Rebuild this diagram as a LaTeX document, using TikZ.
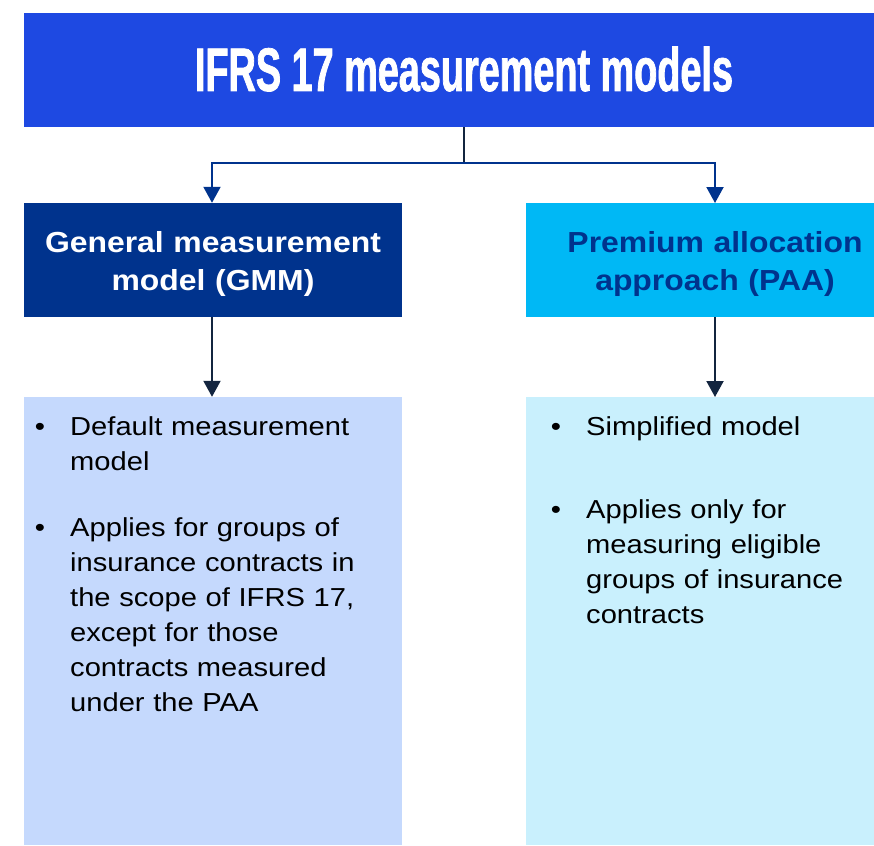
\documentclass[tikz,border=0pt]{standalone}
\usepackage{fontspec}
\setmainfont{Liberation Sans}
\newfontfamily\bodyfont[FakeStretch=1.12]{Liberation Sans}
\newfontfamily\headfont[FakeStretch=1.1]{Liberation Sans}
\newfontfamily\titlefont[FakeStretch=0.615,FakeBold=1.2]{Liberation Sans}
\usetikzlibrary{arrows.meta}
\definecolor{titleblue}{HTML}{1E49E2}
\definecolor{gmmblue}{HTML}{00338D}
\definecolor{paacyan}{HTML}{00B8F5}
\definecolor{gmmlight}{HTML}{C5D9FD}
\definecolor{paalight}{HTML}{C9F0FD}
\definecolor{darkline}{HTML}{13253F}
\tikzset{
  box/.style={rectangle, inner sep=0pt, draw=none},
  headtext/.style={anchor=base, align=center, text width=370pt, inner sep=0pt,
    font=\headfont\bfseries\fontsize{29}{38}\selectfont},
  bodytext/.style={anchor=base west, align=left, text width=290pt, inner sep=0pt,
    font=\bodyfont\fontsize{26}{35}\selectfont, text=black},
  bullet/.style={anchor=base, inner sep=0pt, font=\bodyfont\fontsize{26}{35}\selectfont, text=black},
  conn/.style={line width=2pt},
  arr/.style={conn, -{Triangle[width=17pt,length=16pt]}}
}
\begin{document}
\begin{tikzpicture}[x=1pt,y=-1pt]
\useasboundingbox (0,0) rectangle (874,845);
% boxes
\node[box, fill=titleblue, minimum width=850pt, minimum height=114pt] (title) at (449,70) {};
\node[anchor=base, inner sep=0pt, text=white, font=\titlefont\bfseries\fontsize{61.5}{70}\selectfont] (titletext) at (464,91) {IFRS 17 measurement models};
\node[box, fill=gmmblue, minimum width=378pt, minimum height=114pt] (gmm) at (213,260) {};
\node[box, fill=paacyan, minimum width=348pt, minimum height=114pt] (paa) at (700,260) {};
\node[box, fill=gmmlight, minimum width=378pt, minimum height=448pt] (gmmbody) at (213,621) {};
\node[box, fill=paalight, minimum width=348pt, minimum height=448pt] (paabody) at (700,621) {};
% headings
\node[headtext, text=white] (gmmtext) at (213,252) {General measurement\\model (GMM)};
\node[headtext, text=gmmblue] (paatext) at (715,252) {Premium allocation\\approach (PAA)};
% bullets left
\node[bullet] (bl1) at (40,435) {•};
\node[bodytext] (tl1) at (70,435) {Default measurement\\model};
\node[bullet] (bl2) at (40,536) {•};
\node[bodytext] (tl2) at (70,536) {Applies for groups of\\insurance contracts in\\the scope of IFRS 17,\\except for those\\contracts measured\\under the PAA};
% bullets right
\node[bullet] (br1) at (556,435) {•};
\node[bodytext] (tr1) at (586,435) {Simplified model};
\node[bullet] (br2) at (556,518) {•};
\node[bodytext] (tr2) at (586,518) {Applies only for\\measuring eligible\\groups of insurance\\contracts};
% connectors
\coordinate (split) at (464,163);
\coordinate (paain) at (715,203);
\coordinate (paaout) at (715,317);
\coordinate (paabodyin) at (715,397);
\draw[conn, darkline] (title.south -| split) -- (split);
\draw[arr, gmmblue] (split) -| ([xshift=-1pt]gmm.north);
\draw[arr, gmmblue] (split) -| (paain);
\draw[arr, darkline] ([xshift=-1pt]gmm.south) -- ([xshift=-1pt]gmmbody.north);
\draw[arr, darkline] (paaout) -- (paabodyin);
\end{tikzpicture}
\end{document}
